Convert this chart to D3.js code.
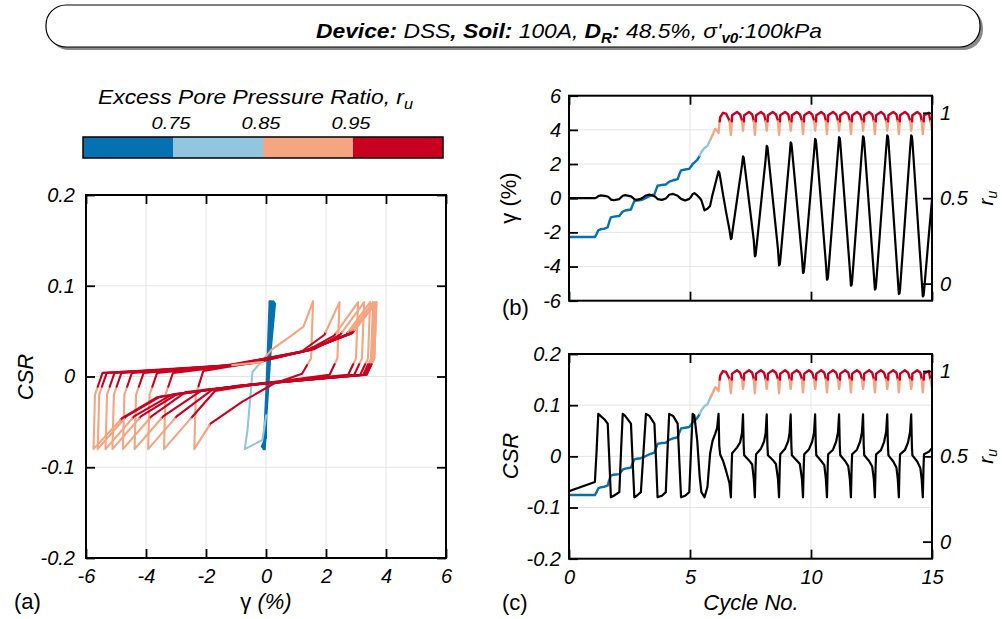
<!DOCTYPE html>
<html>
<head>
<meta charset="utf-8">
<script src="https://cdn.jsdelivr.net/npm/d3@7"></script>
<style>
  body { margin: 0; background: #fff; }
  svg { display: block; font-family: "Liberation Sans", Arial, Helvetica, sans-serif; }
</style>
</head>
<body>
<svg width="1002" height="619"></svg>
<script>
// colour bands for the excess pore pressure ratio
const ruBreaks = [0.75, 0.85, 0.95];
const ruColors = ["#0571b0", "#92c5de", "#f4a582", "#ca0020"];
const ruTickLabels = ["0.75", "0.85", "0.95"];

// tick values
const strainTicks = [-6, -4, -2, 0, 2, 4, 6];
const csrTicks = [-0.2, -0.1, 0, 0.1, 0.2];
const cycleTicks = [0, 5, 10, 15];
const ruTicks = [0, 0.5, 1];

// rows: [cycle no., gamma (%), CSR, r_u]
const buildUp = [
  [0.00, 0.00, -0.068, 0.273], [1.07, 0.00, -0.050, 0.273], [1.14, 0.04, 0.010, 0.290],
  [1.21, 0.12, 0.083, 0.312], [1.30, 0.16, 0.079, 0.318], [1.47, 0.14, 0.072, 0.322],
  [1.60, 0.10, 0.064, 0.330], [1.67, 0.02, -0.010, 0.365], [1.73, -0.08, -0.080, 0.388],
  [1.85, -0.12, -0.077, 0.392], [2.08, -0.05, -0.070, 0.396], [2.15, 0.05, 0.010, 0.410],
  [2.22, 0.14, 0.083, 0.422], [2.32, 0.18, 0.079, 0.428], [2.56, 0.11, 0.064, 0.434],
  [2.63, 0.03, -0.010, 0.460], [2.70, -0.06, -0.080, 0.482], [2.80, -0.10, -0.077, 0.486],
  [2.97, -0.03, -0.070, 0.489], [3.08, 0.06, 0.010, 0.495], [3.18, 0.16, 0.083, 0.502],
  [3.32, 0.21, 0.079, 0.512], [3.53, 0.12, 0.064, 0.522], [3.60, 0.04, -0.010, 0.550],
  [3.66, -0.05, -0.080, 0.573], [3.84, -0.10, -0.077, 0.578], [4.00, -0.02, -0.070, 0.580],
  [4.07, 0.08, 0.010, 0.588], [4.14, 0.20, 0.083, 0.597], [4.30, 0.25, 0.079, 0.605],
  [4.49, 0.14, 0.064, 0.612], [4.56, 0.05, -0.010, 0.640], [4.63, -0.04, -0.080, 0.663],
  [4.80, -0.14, -0.077, 0.668], [4.97, -0.04, -0.070, 0.672], [5.04, 0.08, 0.010, 0.685],
  [5.11, 0.24, 0.083, 0.700], [5.18, 0.30, 0.080, 0.708], [5.30, 0.16, 0.030, 0.725],
  [5.40, 0.02, -0.040, 0.748], [5.47, -0.12, -0.070, 0.770]
];

const transition = [
  [5.60, -0.71, -0.080, 0.794], [5.72, -0.62, -0.060, 0.805], [5.83, -0.45, 0.005, 0.840],
  [5.93, 0.20, 0.030, 0.870], [6.04, 0.80, 0.044, 0.905], [6.12, 1.25, 0.055, 0.895],
  [6.18, 1.57, 0.083, 0.882], [6.21, 1.50, 0.020, 0.930], [6.25, 1.20, 0.003, 0.975],
  [6.36, 0.25, -0.008, 1.000], [6.49, -0.80, -0.028, 0.995], [6.63, -1.85, -0.052, 0.955]
];

const liquefied = [
  [6.69, -2.39, -0.080, 0.870], [6.72, -2.34, -0.020, 0.930], [6.74, -2.09, 0.006, 0.985],
  [6.94, -0.12, 0.017, 1.005], [7.07, 1.16, 0.027, 0.990], [7.15, 1.95, 0.046, 0.955],
  [7.19, 2.45, 0.082, 0.895], [7.22, 2.38, 0.020, 0.930], [7.24, 2.12, 0.002, 0.985],
  [7.44, -0.19, -0.008, 1.005], [7.57, -1.70, -0.016, 0.990], [7.635, -2.45, -0.044, 0.955],
  [7.68, -3.40, -0.080, 0.870], [7.71, -3.35, -0.020, 0.930], [7.73, -3.10, 0.004, 0.985],
  [7.93, -0.38, 0.015, 1.005], [8.06, 1.39, 0.029, 0.990], [8.125, 2.27, 0.045, 0.955],
  [8.17, 3.07, 0.082, 0.895], [8.20, 3.00, 0.020, 0.930], [8.22, 2.74, 0.002, 0.985],
  [8.42, -0.02, -0.007, 1.005], [8.55, -1.81, -0.015, 0.990], [8.635, -2.98, -0.044, 0.955],
  [8.68, -3.93, -0.080, 0.870], [8.71, -3.88, -0.020, 0.930], [8.73, -3.63, 0.004, 0.985],
  [8.93, -0.46, 0.015, 1.005], [9.06, 1.60, 0.030, 0.990], [9.115, 2.47, 0.046, 0.955],
  [9.16, 3.27, 0.082, 0.895], [9.19, 3.20, 0.020, 0.930], [9.21, 2.94, 0.002, 0.985],
  [9.41, -0.13, -0.008, 1.005], [9.54, -2.13, -0.015, 0.990], [9.625, -3.43, -0.044, 0.955],
  [9.67, -4.38, -0.080, 0.875], [9.70, -4.33, -0.020, 0.930], [9.72, -4.08, 0.004, 0.985],
  [9.92, -0.75, 0.014, 1.005], [10.05, 1.42, 0.029, 0.990], [10.125, 2.67, 0.046, 0.955],
  [10.17, 3.47, 0.082, 0.895], [10.20, 3.40, 0.020, 0.930], [10.22, 3.14, 0.002, 0.985],
  [10.42, -0.38, -0.009, 1.005], [10.55, -2.67, -0.017, 0.990], [10.615, -3.82, -0.044, 0.955],
  [10.66, -4.77, -0.080, 0.875], [10.69, -4.72, -0.020, 0.930], [10.71, -4.47, 0.004, 0.985],
  [10.91, -0.89, 0.013, 1.005], [11.04, 1.43, 0.029, 0.990], [11.115, 2.77, 0.047, 0.955],
  [11.16, 3.57, 0.082, 0.895], [11.19, 3.50, 0.020, 0.930], [11.21, 3.24, 0.002, 0.985],
  [11.41, -0.51, -0.009, 1.005], [11.54, -2.95, -0.019, 0.990], [11.605, -4.17, -0.044, 0.955],
  [11.65, -5.12, -0.080, 0.875], [11.68, -5.07, -0.020, 0.930], [11.70, -4.82, 0.004, 0.985],
  [11.90, -1.05, 0.013, 1.005], [12.03, 1.40, 0.029, 0.990], [12.105, 2.82, 0.047, 0.955],
  [12.15, 3.62, 0.082, 0.895], [12.18, 3.55, 0.020, 0.930], [12.20, 3.29, 0.002, 0.985],
  [12.40, -0.60, -0.009, 1.005], [12.53, -3.14, -0.020, 0.990], [12.595, -4.40, -0.044, 0.955],
  [12.64, -5.35, -0.080, 0.875], [12.67, -5.30, -0.020, 0.930], [12.69, -5.05, 0.004, 0.985],
  [12.89, -1.23, 0.012, 1.005], [13.02, 1.26, 0.028, 0.990], [13.105, 2.88, 0.048, 0.955],
  [13.15, 3.68, 0.082, 0.895], [13.18, 3.61, 0.020, 0.930], [13.20, 3.35, 0.002, 0.985],
  [13.40, -0.81, -0.010, 1.005], [13.53, -3.51, -0.022, 0.990], [13.585, -4.66, -0.044, 0.955],
  [13.63, -5.61, -0.080, 0.875], [13.66, -5.56, -0.020, 0.930], [13.68, -5.31, 0.004, 0.985],
  [13.88, -1.36, 0.012, 1.005], [14.01, 1.20, 0.027, 0.990], [14.095, 2.88, 0.048, 0.955],
  [14.14, 3.68, 0.082, 0.895], [14.17, 3.61, 0.020, 0.930], [14.19, 3.35, 0.002, 0.985],
  [14.39, -0.88, -0.010, 1.005], [14.52, -3.64, -0.023, 0.990], [14.575, -4.80, -0.046, 0.955],
  [14.62, -5.75, -0.080, 0.875], [14.65, -5.70, -0.020, 0.930], [14.67, -5.45, 0.004, 0.985],
  [14.87, -2.15, 0.009, 1.000], [15.00, -0.10, 0.016, 0.900]
];

const rows = buildUp.concat(transition, liquefied)
  .map(d => ({ t: d[0], g: d[1], c: d[2], r: d[3] }));

const svg = d3.select("svg");
const ruColor = d3.scaleThreshold().domain(ruBreaks).range(ruColors);

// split the record into runs of one colour, cutting where r_u crosses a band edge
function colourRuns(xf, yf) {
  const out = [];
  let cur = null;
  const at = (a, b, f) => ({
    t: a.t + (b.t - a.t) * f, g: a.g + (b.g - a.g) * f,
    c: a.c + (b.c - a.c) * f, r: a.r + (b.r - a.r) * f
  });
  for (let i = 0; i < rows.length - 1; i++) {
    const a = rows[i], b = rows[i + 1];
    const cuts = [0, 1];
    ruBreaks.forEach(k => {
      if ((a.r - k) * (b.r - k) < 0) cuts.push((k - a.r) / (b.r - a.r));
    });
    cuts.sort((p, q) => p - q);
    for (let j = 0; j < cuts.length - 1; j++) {
      const p0 = at(a, b, cuts[j]), p1 = at(a, b, cuts[j + 1]);
      const col = ruColor((p0.r + p1.r) / 2);
      if (cur && cur.color === col) cur.pts.push([xf(p1), yf(p1)]);
      else {
        cur = { color: col, pts: [[xf(p0), yf(p0)], [xf(p1), yf(p1)]] };
        out.push(cur);
      }
    }
  }
  return out;
}

function drawRuns(g, xf, yf, width, clip) {
  g.append("g").attr("clip-path", clip)
    .selectAll("path")
    .data(colourRuns(xf, yf))
    .join("path")
      .attr("d", d => d3.line()(d.pts))
      .attr("fill", "none")
      .attr("stroke", d => d.color)
      .attr("stroke-width", width)
      .attr("stroke-linejoin", "round")
      .attr("stroke-linecap", "round");
}

function styleAxis(sel) {
  sel.attr("font-family", null).attr("font-size", null);
  sel.select(".domain").remove();
  sel.selectAll(".tick line").attr("stroke-width", 1.8);
  sel.selectAll(".tick text").attr("font-size", 20).attr("font-style", "italic");
}

function grid(g, x, y, xs, ys) {
  const gg = g.append("g").attr("stroke", "#e4e4e4").attr("stroke-width", 1);
  gg.selectAll(".gx").data(xs).join("line")
    .attr("x1", d => x(d)).attr("x2", d => x(d))
    .attr("y1", y.range()[0]).attr("y2", y.range()[1]);
  gg.selectAll(".gy").data(ys).join("line")
    .attr("x1", x.range()[0]).attr("x2", x.range()[1])
    .attr("y1", d => y(d)).attr("y2", d => y(d));
}

function clipRect(id, x, y) {
  svg.append("clipPath").attr("id", id).append("rect")
    .attr("x", x.range()[0]).attr("y", y.range()[1])
    .attr("width", x.range()[1] - x.range()[0])
    .attr("height", y.range()[0] - y.range()[1]);
}

function frameRect(g, x, y) {
  g.append("rect")
    .attr("x", x.range()[0]).attr("y", y.range()[1])
    .attr("width", x.range()[1] - x.range()[0])
    .attr("height", y.range()[0] - y.range()[1])
    .attr("fill", "none").attr("stroke", "#000").attr("stroke-width", 2);
}

const fmt = d => String(d);
const T = 9; // inward tick length

// ---------- title box ----------
svg.append("rect").attr("x", 49).attr("y", 8).attr("width", 934).attr("height", 42)
  .attr("rx", 20).attr("fill", "#8a8a8a");
svg.append("rect").attr("x", 46).attr("y", 5).attr("width", 934).attr("height", 42)
  .attr("rx", 20).attr("fill", "#fff").attr("stroke", "#000").attr("stroke-width", 1.2);

const titleParts = [
  { s: "Device:", b: 1 }, { s: " DSS" }, { s: ", Soil:", b: 1 }, { s: " 100A," },
  { s: " D", b: 1 }, { s: "R", b: 1, sub: 1 }, { s: ":", b: 1, after: 1 }, { s: " 48.5%," },
  { s: " σ'" }, { s: "v0", b: 1, sub: 1 }, { s: ":100kPa", after: 1 }
];
svg.append("text").attr("x", 569).attr("y", 38).attr("text-anchor", "middle")
  .attr("font-size", 21).attr("font-style", "italic")
  .attr("textLength", 506).attr("lengthAdjust", "spacingAndGlyphs")
  .selectAll("tspan").data(titleParts).join("tspan")
    .attr("font-weight", d => d.b ? "bold" : "normal")
    .attr("font-size", d => d.sub ? 14 : 21)
    .attr("dy", d => d.sub ? 5 : d.after ? -5 : 0)
    .text(d => d.s);

// ---------- colour bar legend ----------
const legendTitle = svg.append("text").attr("x", 98).attr("y", 104)
  .attr("font-size", 21).attr("font-style", "italic")
  .attr("textLength", 315).attr("lengthAdjust", "spacingAndGlyphs");
legendTitle.append("tspan").text("Excess Pore Pressure Ratio, r");
legendTitle.append("tspan").attr("font-size", 15).attr("dy", 5).text("u");

const barX = d3.scaleBand().domain(d3.range(ruColors.length)).range([83, 443]);
svg.append("g").selectAll("rect").data(ruColors).join("rect")
  .attr("x", (d, i) => barX(i)).attr("y", 137)
  .attr("width", barX.bandwidth()).attr("height", 21)
  .attr("fill", d => d);
svg.append("rect").attr("x", 83).attr("y", 137).attr("width", 360).attr("height", 21)
  .attr("fill", "none").attr("stroke", "#000").attr("stroke-width", 1.5);
svg.append("g").selectAll("text").data(ruTickLabels).join("text")
  .attr("x", (d, i) => barX(i + 1) - 2).attr("y", 129)
  .attr("text-anchor", "middle").attr("font-size", 17).attr("font-style", "italic")
  .attr("textLength", 39).attr("lengthAdjust", "spacingAndGlyphs")
  .text(d => d);

// ---------- panel (a): CSR vs shear strain ----------
const ax = d3.scaleLinear().domain([-6, 6]).range([86, 446]);
const ay = d3.scaleLinear().domain([-0.2, 0.2]).range([558, 195]);
const pa = svg.append("g");
clipRect("clip-a", ax, ay);
grid(pa, ax, ay, strainTicks.slice(1, -1), csrTicks.slice(1, -1));
drawRuns(pa, d => ax(d.g), d => ay(d.c), 2.1, "url(#clip-a)");
pa.append("g").attr("transform", "translate(0,558)")
  .call(d3.axisBottom(ax).tickValues(strainTicks).tickSize(-T).tickPadding(11).tickFormat(fmt))
  .call(styleAxis);
pa.append("g").attr("transform", "translate(0,195)")
  .call(d3.axisTop(ax).tickValues(strainTicks).tickSize(-T).tickFormat(""))
  .call(styleAxis);
pa.append("g").attr("transform", "translate(86,0)")
  .call(d3.axisLeft(ay).tickValues(csrTicks).tickSize(-T).tickPadding(11).tickFormat(fmt))
  .call(styleAxis);
pa.append("g").attr("transform", "translate(446,0)")
  .call(d3.axisRight(ay).tickValues(csrTicks).tickSize(-T).tickFormat(""))
  .call(styleAxis);
frameRect(pa, ax, ay);
pa.append("text").attr("transform", "translate(33,377) rotate(-90)")
  .attr("text-anchor", "middle").attr("font-size", 22).attr("font-style", "italic").text("CSR");
const gxLab = pa.append("text").attr("x", 266).attr("y", 609)
  .attr("text-anchor", "middle").attr("font-size", 22);
gxLab.append("tspan").text("γ");
gxLab.append("tspan").attr("font-style", "italic").text(" (%)");
pa.append("text").attr("x", 14).attr("y", 609).attr("font-size", 22).text("(a)");

// ---------- panels (b) and (c): time histories ----------
const tx = d3.scaleLinear().domain([0, 15]).range([569, 932]);

function historyPanel(y, ru, yTicks, yKey, clipId, showX) {
  const p = svg.append("g");
  clipRect(clipId, tx, y);
  grid(p, tx, y, cycleTicks.slice(1, -1), yTicks.slice(1, -1));
  drawRuns(p, d => tx(d.t), d => ru(d.r), 2.4, `url(#${clipId})`);
  p.append("path").attr("clip-path", `url(#${clipId})`)
    .attr("d", d3.line().x(d => tx(d.t)).y(d => y(d[yKey]))(rows))
    .attr("fill", "none").attr("stroke", "#000").attr("stroke-width", 2.2)
    .attr("stroke-linejoin", "round");
  const bottom = y.range()[0], top = y.range()[1];
  p.append("g").attr("transform", `translate(0,${bottom})`)
    .call(d3.axisBottom(tx).tickValues(cycleTicks).tickSize(-T).tickPadding(11)
      .tickFormat(showX ? fmt : ""))
    .call(styleAxis);
  p.append("g").attr("transform", `translate(0,${top})`)
    .call(d3.axisTop(tx).tickValues(cycleTicks).tickSize(-T).tickFormat(""))
    .call(styleAxis);
  p.append("g").attr("transform", "translate(569,0)")
    .call(d3.axisLeft(y).tickValues(yTicks).tickSize(-T).tickPadding(8).tickFormat(fmt))
    .call(styleAxis);
  p.append("g").attr("transform", "translate(932,0)")
    .call(d3.axisRight(ru).tickValues(ruTicks).tickSize(-T).tickPadding(8).tickFormat(fmt))
    .call(styleAxis);
  frameRect(p, tx, y);
  const mid = (top + bottom) / 2;
  const rl = p.append("text").attr("transform", `translate(993,${mid}) rotate(-90)`)
    .attr("text-anchor", "middle").attr("font-size", 21).attr("font-style", "italic");
  rl.append("tspan").text("r");
  rl.append("tspan").attr("font-size", 14).attr("dy", 4).text("u");
  return p;
}

// (b) shear strain
const by = d3.scaleLinear().domain([-6, 6]).range([300.7, 95.7]);
const bRu = d3.scaleLinear().domain([-0.1, 1.1]).range([300.7, 95.7]);
const pb = historyPanel(by, bRu, strainTicks, "g", "clip-b", false);
pb.append("text").attr("transform", "translate(516,198) rotate(-90)")
  .attr("text-anchor", "middle").attr("font-size", 22).text("γ (%)");
pb.append("text").attr("x", 502).attr("y", 315).attr("font-size", 22).text("(b)");

// (c) cyclic stress ratio
const cy = d3.scaleLinear().domain([-0.2, 0.2]).range([558.7, 354]);
const cRu = d3.scaleLinear().domain([-0.1, 1.1]).range([558.7, 354]);
const pc = historyPanel(cy, cRu, csrTicks, "c", "clip-c", true);
pc.append("text").attr("transform", "translate(518,456) rotate(-90)")
  .attr("text-anchor", "middle").attr("font-size", 22).attr("font-style", "italic").text("CSR");
pc.append("text").attr("x", 751).attr("y", 610).attr("text-anchor", "middle")
  .attr("font-size", 22).attr("font-style", "italic").text("Cycle No.");
pc.append("text").attr("x", 502).attr("y", 610).attr("font-size", 22).text("(c)");
</script>
</body>
</html>
